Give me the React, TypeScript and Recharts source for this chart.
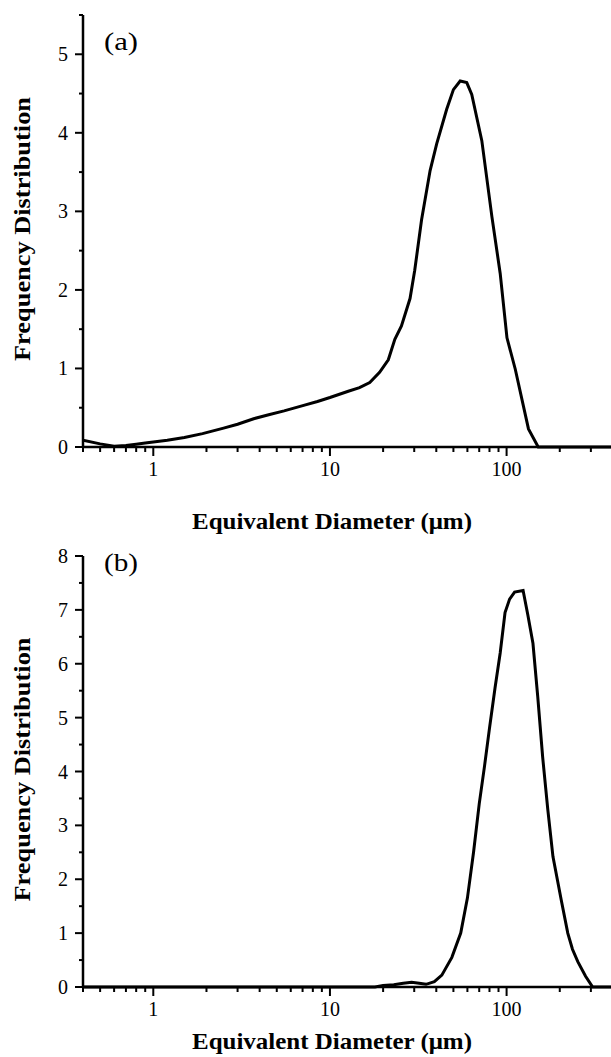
import React from 'react';
import { LineChart, Line, XAxis, YAxis, Label } from 'recharts';

// panel (a): equivalent diameter (um) vs frequency distribution
const sizeA = [0.4, 0.5, 0.6, 0.7, 0.8, 0.9, 1, 1.2, 1.5, 1.9, 2.5, 3, 3.7, 4.5, 5.5, 7.1, 8.5, 10, 12.7, 14.7, 16.8, 19.1, 21.4, 23.3, 25.4, 28.4, 30.2, 33, 36.9, 40.2, 45.8, 50, 54.6, 59.5, 63.5, 72.4, 82.6, 92, 100.5, 112, 133, 151, 390];
const freqA = [0.085, 0.04, 0.01, 0.02, 0.035, 0.05, 0.065, 0.085, 0.12, 0.17, 0.24, 0.29, 0.36, 0.41, 0.46, 0.53, 0.58, 0.63, 0.71, 0.755, 0.82, 0.95, 1.11, 1.37, 1.54, 1.89, 2.25, 2.89, 3.52, 3.86, 4.3, 4.55, 4.66, 4.64, 4.49, 3.9, 2.93, 2.21, 1.39, 0.99, 0.23, 0, 0];

// panel (b)
const sizeB = [0.4, 1, 10, 18, 20, 23, 26, 29, 32, 35, 39, 43, 49, 55, 60, 65, 70, 75, 80, 86, 92, 98, 104, 111, 124, 132, 141, 150, 160, 171, 183, 204, 222, 236, 253, 280, 307, 390];
const freqB = [0, 0, 0, 0, 0.03, 0.04, 0.07, 0.09, 0.07, 0.05, 0.1, 0.22, 0.55, 1.0, 1.65, 2.5, 3.4, 4.1, 4.8, 5.55, 6.2, 6.95, 7.2, 7.33, 7.36, 6.9, 6.38, 5.4, 4.27, 3.3, 2.42, 1.61, 1.0, 0.7, 0.47, 0.2, 0, 0];

const xTicks = [0.4, 0.5, 0.6, 0.7, 0.8, 0.9, 1, 2, 3, 4, 5, 6, 7, 8, 9, 10, 20, 30, 40, 50, 60, 70, 80, 90, 100, 200, 300];
const xLabels = [1, 10, 100];
const yTicksA = [0, 0.5, 1, 1.5, 2, 2.5, 3, 3.5, 4, 4.5, 5, 5.5];
const yTicksB = [0, 0.5, 1, 1.5, 2, 2.5, 3, 3.5, 4, 4.5, 5, 5.5, 6, 6.5, 7, 7.5, 8];

const FONT = '"Liberation Serif", "Times New Roman", serif';
const xTitle = 'Equivalent Diameter (\u03bcm)';
const yTitle = 'Frequency Distribution';

const XTick = (props: any) => {
  const { x, y, payload } = props;
  const major = xLabels.includes(payload.value);
  return (
    <g>
      <line x1={x} x2={x} y1={y} y2={y + (major ? 9 : 5)} stroke="#000" strokeWidth={2} />
      {major && (
        <text x={x} y={y + 29} textAnchor="middle" fontSize={20} fontFamily={FONT} fill="#000">
          {payload.value}
        </text>
      )}
    </g>
  );
};

const YTick = (props: any) => {
  const { x, y, payload } = props;
  const major = Number.isInteger(payload.value);
  return (
    <g>
      <line x1={x} x2={x - (major ? 8 : 4)} y1={y} y2={y} stroke="#000" strokeWidth={2} />
      {major && (
        <text x={x - 15} y={y + 7} textAnchor="end" fontSize={20} fontFamily={FONT} fill="#000">
          {payload.value}
        </text>
      )}
    </g>
  );
};

function Panel({ sizes, freqs, yTicks, yMax, tag, top, height, marginTop, plotH, titleDy, tagY }: any) {
  const data = sizes.map((d: number, i: number) => ({ d, f: freqs[i] }));
  return (
    <div style={{ position: 'absolute', left: 0, top, width: 611, height }}>
      <LineChart width={611} height={height} data={data} margin={{ top: marginTop, right: 0, left: 0, bottom: 0 }}>
        <XAxis
          dataKey="d"
          type="number"
          scale="log"
          domain={[0.4, 390]}
          allowDataOverflow
          ticks={xTicks}
          interval={0}
          tick={<XTick />}
          tickLine={false}
          tickSize={0}
          tickMargin={0}
          height={height - marginTop - plotH}
          axisLine={{ stroke: '#000', strokeWidth: 2.5 }}
        >
          <Label
            content={(p: any) => (
              <text
                x={332}
                y={p.viewBox.y + titleDy}
                textAnchor="middle"
                fontSize={23}
                fontWeight="bold"
                fontFamily={FONT}
                textLength={280}
                lengthAdjust="spacingAndGlyphs"
                fill="#000"
              >
                {xTitle}
              </text>
            )}
          />
        </XAxis>
        <YAxis
          type="number"
          domain={[0, yMax]}
          ticks={yTicks}
          interval={0}
          width={83}
          tick={<YTick />}
          tickLine={false}
          tickSize={0}
          tickMargin={0}
          axisLine={{ stroke: '#000', strokeWidth: 2.5 }}
        >
          <Label
            content={(p: any) => {
              const cy = p.viewBox.y + p.viewBox.height / 2 - 2;
              return (
                <text
                  x={30}
                  y={cy}
                  transform={`rotate(-90, 30, ${cy})`}
                  textAnchor="middle"
                  fontSize={23}
                  fontWeight="bold"
                  fontFamily={FONT}
                  textLength={264}
                  lengthAdjust="spacingAndGlyphs"
                  fill="#000"
                >
                  {yTitle}
                </text>
              );
            }}
          />
          <Label
            content={() => (
              <text
                x={104}
                y={tagY}
                fontSize={25}
                fontFamily={FONT}
                textLength={34}
                lengthAdjust="spacingAndGlyphs"
                fill="#000"
              >
                {tag}
              </text>
            )}
          />
        </YAxis>
        <Line
          type="linear"
          dataKey="f"
          stroke="#000"
          strokeWidth={3}
          dot={false}
          isAnimationActive={false}
        />
      </LineChart>
    </div>
  );
}

export default function App() {
  return (
    <div style={{ position: 'absolute', left: 0, top: 0, width: 611, height: 1057, background: '#fff', overflow: 'hidden' }}>
      <Panel
        sizes={sizeA}
        freqs={freqA}
        yTicks={yTicksA}
        yMax={5.5}
        tag="(a)"
        top={0}
        height={540}
        marginTop={15}
        plotH={432}
        titleDy={82}
        tagY={50}
      />
      <Panel
        sizes={sizeB}
        freqs={freqB}
        yTicks={yTicksB}
        yMax={8}
        tag="(b)"
        top={540}
        height={517}
        marginTop={16}
        plotH={431}
        titleDy={62}
        tagY={31}
      />
    </div>
  );
}
